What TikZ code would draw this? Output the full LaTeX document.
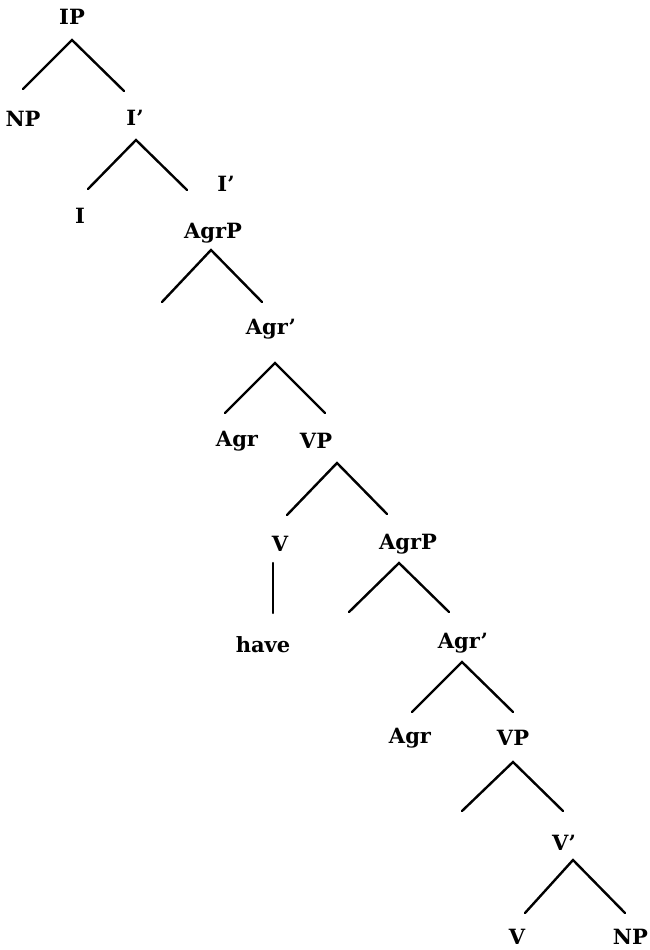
\documentclass[tikz,border=0pt]{standalone}
\usepackage{fontspec}
\setmainfont{DejaVu Serif}
\begin{document}
\begin{tikzpicture}[x=1pt,y=-1pt,
  lbl/.style={inner sep=0pt,font=\fontsize{21}{25}\selectfont\bfseries},
  edge/.style={line width=2.4pt,line cap=round}]
\useasboundingbox (0,0) rectangle (649,950);
% labels
\node[lbl] (ip)    at (72,17)   {IP};
\node[lbl] (np1)   at (23,119)  {NP};
\node[lbl] (ib1)   at (135,118) {I'};
\node[lbl] (i)     at (80,216)  {I};
\node[lbl] (ib2)   at (226,184) {I'};
\node[lbl] (agrp1) at (213,233) {AgrP};
\node[lbl] (agrb1) at (271,329) {Agr'};
\node[lbl] (agr1)  at (237,441) {Agr};
\node[lbl] (vp1)   at (316,441) {VP};
\node[lbl] (v1)    at (280,544) {V};
\node[lbl] (have)  at (263,645) {have};
\node[lbl] (agrp2) at (408,544) {AgrP};
\node[lbl] (agrb2) at (463,643) {Agr'};
\node[lbl] (agr2)  at (410,738) {Agr};
\node[lbl] (vp2)   at (513,738) {VP};
\node[lbl] (vb)    at (564,843) {V'};
\node[lbl] (v2)    at (517,937) {V};
\node[lbl,anchor=east] (np2) at (648,937) {NP};
% branch points
\coordinate (ip-a) at (72,40);   \coordinate (ip-l) at (23,89);   \coordinate (ip-r) at (124,91);
\coordinate (ib1-a) at (136,140);\coordinate (ib1-l) at (88,189); \coordinate (ib1-r) at (187,190);
\coordinate (agrp1-a) at (211,250);\coordinate (agrp1-l) at (162,302);\coordinate (agrp1-r) at (262,302);
\coordinate (agrb1-a) at (275,363);\coordinate (agrb1-l) at (225,413);\coordinate (agrb1-r) at (325,413);
\coordinate (vp1-a) at (337,463);\coordinate (vp1-l) at (287,515);\coordinate (vp1-r) at (387,514);
\coordinate (v1-a) at (273,563); \coordinate (v1-b) at (273,613);
\coordinate (agrp2-a) at (399,563);\coordinate (agrp2-l) at (349,612);\coordinate (agrp2-r) at (449,612);
\coordinate (agrb2-a) at (462,662);\coordinate (agrb2-l) at (412,712);\coordinate (agrb2-r) at (513,712);
\coordinate (vp2-a) at (513,762);\coordinate (vp2-l) at (462,811);\coordinate (vp2-r) at (563,811);
\coordinate (vb-a) at (573,860); \coordinate (vb-l) at (525,913); \coordinate (vb-r) at (625,913);
% edges
\draw[edge] (ip-l) -- (ip-a) -- (ip-r);
\draw[edge] (ib1-l) -- (ib1-a) -- (ib1-r);
\draw[edge] (agrp1-l) -- (agrp1-a) -- (agrp1-r);
\draw[edge] (agrb1-l) -- (agrb1-a) -- (agrb1-r);
\draw[edge] (vp1-l) -- (vp1-a) -- (vp1-r);
\draw[edge] (v1-a) -- (v1-b);
\draw[edge] (agrp2-l) -- (agrp2-a) -- (agrp2-r);
\draw[edge] (agrb2-l) -- (agrb2-a) -- (agrb2-r);
\draw[edge] (vp2-l) -- (vp2-a) -- (vp2-r);
\draw[edge] (vb-l) -- (vb-a) -- (vb-r);
\end{tikzpicture}
\end{document}
